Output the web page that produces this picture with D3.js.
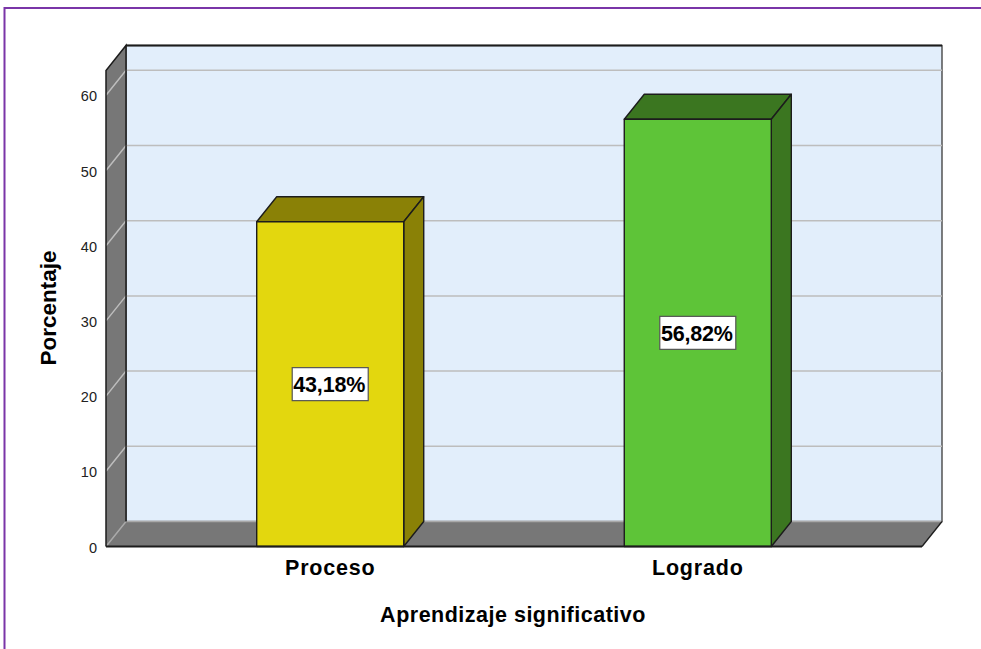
<!DOCTYPE html>
<html>
<head>
<meta charset="utf-8">
<script src="https://cdn.jsdelivr.net/npm/d3@7"></script>
<style>
  html, body { margin: 0; padding: 0; background: #fff; overflow: hidden; }
  text { font-family: "Liberation Sans", Arial, sans-serif; }
</style>
</head>
<body>
<svg id="drawing_region"></svg>
<script>
const categories = ["Proceso", "Logrado"];
const percentages = [43.18, 56.82];
const value_labels = ["43,18%", "56,82%"];
const y_ticks = [0, 10, 20, 30, 40, 50, 60];
const bar_colors = ["#e3d70e", "#5ec438"];
const bar_shades = ["#8a8106", "#3b7620"];

const width = 981, height = 649;
const left = 106, right = 922, baseline = 546.5;
const depth_x = 20, depth_y = -25;
const line_color = "#1c1c1c";

const svg = d3.select("#drawing_region")
    .attr("width", width)
    .attr("height", height);

const xscale = d3.scaleBand()
    .domain(categories)
    .range([left, right])
    .paddingInner(0.6)
    .paddingOuter(0.41);

const yscale = d3.scaleLinear()
    .domain([0, 60])
    .range([baseline, 95.3]);

const top_front = yscale(63.3);
const poly = pts => pts.map(p => p.join(",")).join(" ");

// purple frame of the pasted picture, only top and left are visible
svg.append("path")
    .attr("d", d3.line()([[4.5, height], [4.5, 8], [width, 8]]))
    .attr("fill", "none")
    .attr("stroke", "#7a35a8")
    .attr("stroke-width", 2);

// back wall
svg.append("rect")
    .attr("x", left + depth_x)
    .attr("y", top_front + depth_y)
    .attr("width", right - left)
    .attr("height", baseline - top_front)
    .attr("fill", "#e2eefb")
    .attr("stroke", "#3a3a3a")
    .attr("stroke-width", 1.3);

svg.append("line")
    .attr("x1", left + depth_x).attr("x2", right + depth_x)
    .attr("y1", top_front + depth_y).attr("y2", top_front + depth_y)
    .attr("stroke", line_color)
    .attr("stroke-width", 2);

// side wall and floor
svg.append("polygon")
    .attr("points", poly([
        [left, top_front], [left + depth_x, top_front + depth_y],
        [left + depth_x, baseline + depth_y], [left, baseline]
    ]))
    .attr("fill", "#777777");

svg.append("polygon")
    .attr("points", poly([
        [left, baseline], [left + depth_x, baseline + depth_y],
        [right + depth_x, baseline + depth_y], [right, baseline]
    ]))
    .attr("fill", "#777777");

// grid lines, running across the side wall and along the back
const grid = svg.append("g");
y_ticks.forEach(t => {
    const y = yscale(t);
    grid.append("path")
        .attr("d", d3.line()([[left, y], [left + depth_x, y + depth_y], [right + depth_x, y + depth_y]]))
        .attr("fill", "none")
        .attr("stroke", t === 0 ? "#a9a9a9" : "#bdbdbd")
        .attr("stroke-width", 1.5);
});

// dark edges of the box
svg.append("path")
    .attr("d", d3.line()([
        [left, baseline], [left, top_front], [left + depth_x, top_front + depth_y],
        [left + depth_x, baseline + depth_y]
    ]))
    .attr("fill", "none")
    .attr("stroke", line_color)
    .attr("stroke-width", 1.5);

svg.append("line")
    .attr("x1", right).attr("y1", baseline)
    .attr("x2", right + depth_x).attr("y2", baseline + depth_y)
    .attr("stroke", line_color)
    .attr("stroke-width", 1.3);

// bars
const bars = svg.selectAll(".bar")
    .data(categories)
    .enter()
    .append("g")
    .attr("class", "bar");

const edge = sel => sel
    .attr("stroke", line_color)
    .attr("stroke-width", 1.4)
    .attr("stroke-linejoin", "round");

bars.append("polygon")
    .attr("points", (d, i) => {
        const x0 = xscale(d), x1 = x0 + xscale.bandwidth(), y = yscale(percentages[i]);
        return poly([[x0, y], [x0 + depth_x, y + depth_y], [x1 + depth_x, y + depth_y], [x1, y]]);
    })
    .attr("fill", (d, i) => bar_shades[i])
    .call(edge);

bars.append("polygon")
    .attr("points", (d, i) => {
        const x1 = xscale(d) + xscale.bandwidth(), y = yscale(percentages[i]);
        return poly([[x1, y], [x1 + depth_x, y + depth_y], [x1 + depth_x, baseline + depth_y], [x1, baseline]]);
    })
    .attr("fill", (d, i) => bar_shades[i])
    .call(edge);

bars.append("rect")
    .attr("x", d => xscale(d))
    .attr("y", (d, i) => yscale(percentages[i]))
    .attr("width", xscale.bandwidth())
    .attr("height", (d, i) => baseline - yscale(percentages[i]))
    .attr("fill", (d, i) => bar_colors[i])
    .call(edge);

// value boxes in the middle of each bar
const box_w = 76, box_h = 33;
bars.append("rect")
    .attr("x", d => xscale(d) + xscale.bandwidth() / 2 - box_w / 2)
    .attr("y", (d, i) => (yscale(percentages[i]) + baseline) / 2 - box_h / 2)
    .attr("width", box_w)
    .attr("height", box_h)
    .attr("fill", "#ffffff")
    .attr("stroke", "#555555")
    .attr("stroke-width", 1.2);

bars.append("text")
    .attr("x", d => xscale(d) + xscale.bandwidth() / 2 - 1)
    .attr("y", (d, i) => (yscale(percentages[i]) + baseline) / 2 + 8)
    .attr("text-anchor", "middle")
    .attr("font-size", "21.5px")
    .attr("font-weight", "bold")
    .attr("letter-spacing", "-0.2px")
    .attr("fill", "#000")
    .text((d, i) => value_labels[i]);

// baseline drawn over the bars' feet
svg.append("line")
    .attr("x1", left).attr("x2", right)
    .attr("y1", baseline).attr("y2", baseline)
    .attr("stroke", line_color)
    .attr("stroke-width", 2);

// axes
const yaxis_group = svg.append("g")
    .attr("transform", `translate(${left}, 1)`)
    .call(d3.axisLeft(yscale).tickValues(y_ticks).tickSize(0).tickPadding(9));
yaxis_group.select(".domain").remove();
yaxis_group.selectAll("text")
    .attr("font-size", "14.5px")
    .attr("font-family", '"Liberation Sans", Arial, sans-serif')
    .attr("fill", "#222");

const xaxis_group = svg.append("g")
    .attr("transform", `translate(0, ${baseline})`)
    .call(d3.axisBottom(xscale).tickSize(0).tickPadding(13));
xaxis_group.select(".domain").remove();
xaxis_group.selectAll("text")
    .attr("font-size", "21.5px")
    .attr("font-family", '"Liberation Sans", Arial, sans-serif')
    .attr("font-weight", "bold")
    .attr("letter-spacing", "0.8px")
    .attr("fill", "#000");

svg.append("text")
    .attr("x", 513)
    .attr("y", 622)
    .attr("text-anchor", "middle")
    .attr("font-size", "21.5px")
    .attr("font-weight", "bold")
    .attr("letter-spacing", "0.5px")
    .attr("fill", "#000")
    .text("Aprendizaje significativo");

svg.append("text")
    .attr("transform", "translate(56, 308) rotate(-90)")
    .attr("text-anchor", "middle")
    .attr("font-size", "22.5px")
    .attr("font-weight", "bold")
    .attr("fill", "#000")
    .text("Porcentaje");
</script>
</body>
</html>
